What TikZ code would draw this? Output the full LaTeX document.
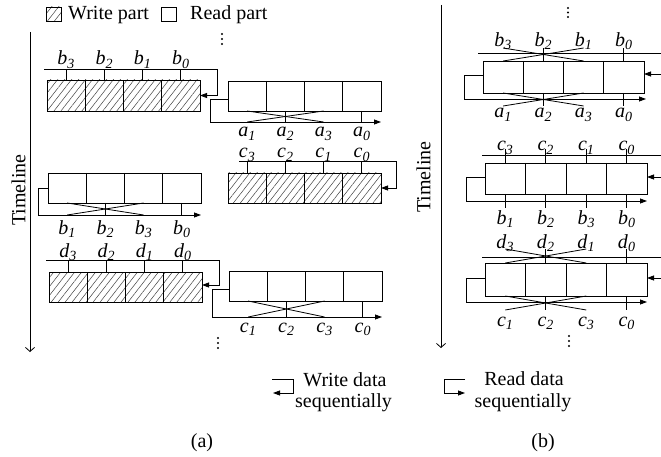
\documentclass[tikz,border=0pt]{standalone}
\usepackage{fontspec}
\setmainfont{Liberation Serif}
\usetikzlibrary{calc,arrows.meta,patterns.meta}
\newcommand{\sublab}[2]{\textit{#1}\textsubscript{\textit{#2}}}
\newcommand{\mkcells}[1]{%
  \foreach \i in {1,2,3,4}{%
    \coordinate (#1t\i) at ($(#1.north west)!{(2*\i-1)/8}!(#1.north east)$);
    \coordinate (#1b\i) at ($(#1.south west)!{(2*\i-1)/8}!(#1.south east)$);
  }%
  \foreach \k in {1,2,3}{%
    \draw[ln] ($(#1.north west)!{\k/4}!(#1.north east)$) -- ($(#1.south west)!{\k/4}!(#1.south east)$);
  }%
}
\begin{document}
\begin{tikzpicture}[x=1pt,y=-1pt,font=\fontsize{20}{24}\selectfont,
  ln/.style={line width=0.8pt},
  buf/.style={draw,line width=0.8pt,inner sep=0pt,outer sep=0pt,anchor=north west},
  hatched/.style={pattern={Lines[angle=52,distance=5.5pt,line width=0.5pt]},pattern color=black!75},
  tip/.style={-{Triangle[length=7pt,width=5pt]}},
  tl/.style={-{Straight Barb[length=4pt,width=9pt]}},
  lab/.style={inner sep=0pt,anchor=base},
  txt/.style={inner sep=0pt},
  dot/.style={fill,circle,inner sep=0pt,minimum size=2.2pt}]
\useasboundingbox (0,0) rectangle (661,457);

% ---------- top legend ----------
\node[buf,hatched,minimum width=15pt,minimum height=14pt] (LH) at (46,7) {};
\node[txt,anchor=base west] (LHt) at (68,20) {Write part};
\node[buf,minimum width=15pt,minimum height=14pt] (LR) at (161,7) {};
\node[txt,anchor=base west] (LRt) at (190,20) {Read part};

% ---------- (a) timeline ----------
\coordinate (TAs) at (30,32);
\coordinate (TAe) at (30,352);
\draw[ln,tl] (TAs) -- (TAe);
\node[txt,rotate=90] (TA) at (18.5,190) {Timeline};

% dots (a)
\foreach \y [count=\j] in {34,39,44} \node[dot] (DA\j) at (222,\y) {};
\foreach \y [count=\j] in {338,343,348} \node[dot] (DB\j) at (218,\y) {};

% ---------- (a) row 1: write b ----------
\node[buf,hatched,minimum width=153pt,minimum height=31pt] (W1) at (47,80) {};
\mkcells{W1}
\coordinate (W1s) at (44,69);
\coordinate (W1e) at (217,69);
\draw[ln,tip] (W1s) -- (W1e) |- (W1.east);
\foreach \i/\n in {1/3,2/2,3/1,4/0}{%
  \draw[ln] (W1t\i) -- (W1t\i |- W1s);
  \node[lab,yshift=4pt] at (W1t\i |- W1s) {\sublab{b}{\n}};
}

% ---------- (a) row 1: read a ----------
\node[buf,minimum width=153pt,minimum height=30pt] (R1) at (228,81) {};
\mkcells{R1}
\coordinate (R1s) at (210,122);
\draw[ln,tip] ($(R1.west)+(0,3)$) -| (R1s) -- (R1s -| R1.east);
\draw[ln] (R1b1) -- (R1b3 |- R1s);
\draw[ln] (R1b3) -- (R1b1 |- R1s);
\draw[ln] (R1b2) -- (R1b2 |- R1s);
\draw[ln] (R1b4) -- (R1b4 |- R1s);
\foreach \i/\n in {1/1,2/2,3/3,4/0}{%
  \node[lab,yshift=-15pt] at (R1b\i |- R1s) {\sublab{a}{\n}};
}

% ---------- (a) row 2: read b ----------
\node[buf,minimum width=153pt,minimum height=30pt] (R2) at (48,173) {};
\mkcells{R2}
\coordinate (R2s) at (38,215);
\draw[ln,tip] (R2.west) -| (R2s) -- (R2s -| R2.east);
\draw[ln] (R2b1) -- (R2b3 |- R2s);
\draw[ln] (R2b3) -- (R2b1 |- R2s);
\draw[ln] (R2b2) -- (R2b2 |- R2s);
\draw[ln] (R2b4) -- (R2b4 |- R2s);
\foreach \i/\n in {1/1,2/2,3/3,4/0}{%
  \node[lab,yshift=-19pt] at (R2b\i |- R2s) {\sublab{b}{\n}};
}

% ---------- (a) row 2: write c ----------
\node[buf,hatched,minimum width=153pt,minimum height=30pt] (W2) at (228,173) {};
\mkcells{W2}
\coordinate (W2s) at (239,161);
\coordinate (W2e) at (396,161);
\draw[ln,tip] (W2s) -- (W2e) |- (W2.east);
\foreach \i/\n in {1/3,2/2,3/1,4/0}{%
  \draw[ln] (W2t\i) -- (W2t\i |- W2s);
  \node[lab,yshift=3pt] at (W2t\i |- W2s) {\sublab{c}{\n}};
}

% ---------- (a) row 3: write d ----------
\node[buf,hatched,minimum width=153pt,minimum height=30pt] (W3) at (49,272) {};
\mkcells{W3}
\coordinate (W3s) at (46,260);
\coordinate (W3e) at (219,260);
\draw[ln,tip] (W3s) -- (W3e) |- ($(W3.east)+(0,-2)$);
\foreach \i/\n in {1/3,2/2,3/1,4/0}{%
  \draw[ln] (W3t\i) -- (W3t\i |- W3s);
  \node[lab,yshift=3pt] at (W3t\i |- W3s) {\sublab{d}{\n}};
}

% ---------- (a) row 3: read c ----------
\node[buf,minimum width=153pt,minimum height=30pt] (R3) at (229,271) {};
\mkcells{R3}
\coordinate (R3s) at (212,317);
\draw[ln,tip] ($(R3.west)+(0,3)$) -| (R3s) -- (R3s -| R3.east);
\draw[ln] (R3b1) -- (R3b3 |- R3s);
\draw[ln] (R3b3) -- (R3b1 |- R3s);
\draw[ln] (R3b2) -- (R3b2 |- R3s);
\draw[ln] (R3b4) -- (R3b4 |- R3s);
\foreach \i/\n in {1/1,2/2,3/3,4/0}{%
  \node[lab,yshift=-15pt] at (R3b\i |- R3s) {\sublab{c}{\n}};
}

% ---------- (b) timeline ----------
\coordinate (TBs) at (441,5);
\coordinate (TBe) at (441,348);
\draw[ln,tl] (TBs) -- (TBe);
\node[txt,rotate=90] (TB) at (423.5,177) {Timeline};
\foreach \y [count=\j] in {8,12.5,17} \node[dot] (DC\j) at (568,\y) {};
\foreach \y [count=\j] in {336,341,346} \node[dot] (DD\j) at (569,\y) {};

% ---------- (b) row 1 ----------
\node[buf,minimum width=161pt,minimum height=32pt] (B1) at (483,61) {};
\mkcells{B1}
\coordinate (B1s) at (478,53);
\coordinate (B1e) at (661,53);
\draw[ln] (B1s) -- (B1e);
\coordinate (B1r) at (661,74);
\draw[ln,tip] (B1r) -- (B1r -| B1.east);
\draw[ln] ($(B1t1)+(0,-13)$) -- (B1t3);
\draw[ln] ($(B1t3)+(0,-13)$) -- (B1t1);
\draw[ln] ($(B1t2)+(0,-13)$) -- (B1t2);
\draw[ln] ($(B1t4)+(0,-13)$) -- (B1t4);
\foreach \i/\n in {1/3,2/2,3/1,4/0}{%
  \node[lab] at ($(B1t\i)+(0,-14.5)$) {\sublab{b}{\n}};
}
\coordinate (B1l) at (464,99);
\draw[ln,tip] ($(B1.west)+(0,-2)$) -| (B1l) -- ($(B1l -| B1.east)+(2,0)$);
\draw[ln] (B1b1) -- ($(B1b3)+(0,13)$);
\draw[ln] (B1b3) -- ($(B1b1)+(0,13)$);
\draw[ln] (B1b2) -- ($(B1b2)+(0,13)$);
\draw[ln] (B1b4) -- ($(B1b4)+(0,13)$);
\foreach \i/\n in {1/1,2/2,3/3,4/0}{%
  \node[lab] at ($(B1b\i)+(0,25)$) {\sublab{a}{\n}};
}

% ---------- (b) row 2 ----------
\node[buf,minimum width=162pt,minimum height=31pt] (B2) at (485,163) {};
\mkcells{B2}
\coordinate (B2s) at (482,155);
\coordinate (B2e) at (661,155);
\draw[ln] (B2s) -- (B2e);
\coordinate (B2r) at (661,177);
\draw[ln,tip] (B2r) -- (B2r -| B2.east);
\foreach \i/\n in {1/3,2/2,3/1,4/0}{%
  \draw[ln] ($(B2t\i)+(0,-14)$) -- (B2t\i);
  \node[lab] at ($(B2t\i)+(0,-12)$) {\sublab{c}{\n}};
}
\coordinate (B2l) at (466,201);
\draw[ln,tip] ($(B2.west)+(0,-1.5)$) -| (B2l) -- (B2l -| B2.east);
\foreach \i/\n in {1/1,2/2,3/3,4/0}{%
  \draw[ln] (B2b\i) -- ($(B2b\i)+(0,14)$);
  \node[lab] at ($(B2b\i)+(0,30)$) {\sublab{b}{\n}};
}

% ---------- (b) row 3 ----------
\node[buf,minimum width=162pt,minimum height=33pt] (B3) at (485,263) {};
\mkcells{B3}
\coordinate (B3s) at (482,257);
\coordinate (B3e) at (661,257);
\draw[ln] (B3s) -- (B3e);
\coordinate (B3r) at (661,278);
\draw[ln,tip] (B3r) -- (B3r -| B3.east);
\draw[ln] ($(B3t1)+(0,-14)$) -- (B3t3);
\draw[ln] ($(B3t3)+(0,-14)$) -- (B3t1);
\draw[ln] ($(B3t2)+(0,-14)$) -- (B3t2);
\draw[ln] ($(B3t4)+(0,-14)$) -- (B3t4);
\foreach \i/\n in {1/3,2/2,3/1,4/0}{%
  \node[lab] at ($(B3t\i)+(0,-15)$) {\sublab{d}{\n}};
}
\coordinate (B3l) at (466,302);
\draw[ln,tip] ($(B3.west)+(0,-1.5)$) -| (B3l) -- (B3l -| B3.east);
\draw[ln] (B3b1) -- ($(B3b3)+(0,14)$);
\draw[ln] (B3b3) -- ($(B3b1)+(0,14)$);
\draw[ln] (B3b2) -- ($(B3b2)+(0,14)$);
\draw[ln] (B3b4) -- ($(B3b4)+(0,14)$);
\foreach \i/\n in {1/1,2/2,3/3,4/0}{%
  \node[lab] at ($(B3b\i)+(0,30)$) {\sublab{c}{\n}};
}

% ---------- bottom legend ----------
\coordinate (WI1) at (272,379);
\coordinate (WI2) at (293,379);
\coordinate (WI3) at (273,393);
\draw[ln,tip] (WI1) -- (WI2) |- (WI3);
\node[lab] (WT1) at (345,386) {Write data};
\node[lab] (WT2) at (343.5,407) {sequentially};
\coordinate (RI1) at (465,379);
\coordinate (RI2) at (444,379);
\coordinate (RI3) at (465,393);
\draw[ln,tip] (RI1) -- (RI2) |- (RI3);
\node[lab] (RT1) at (524,385) {Read data};
\node[lab] (RT2) at (523,407) {sequentially};

\node[lab] (CA) at (202,447) {(a)};
\node[lab] (CB) at (543,447) {(b)};
\end{tikzpicture}
\end{document}
